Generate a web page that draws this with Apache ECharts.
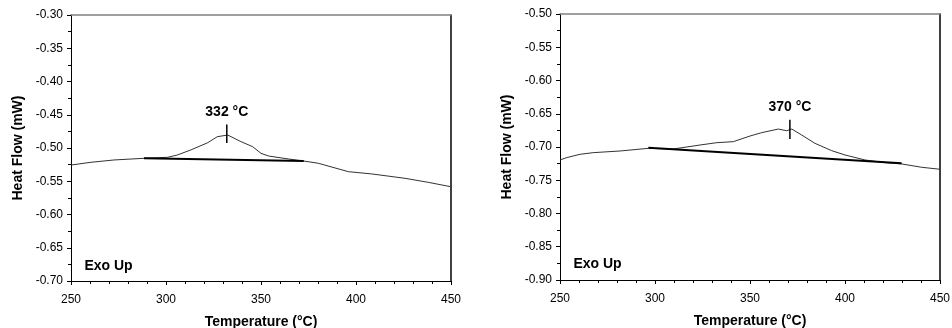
<!DOCTYPE html>
<html>
<head>
<meta charset="utf-8">
<script src="https://cdn.jsdelivr.net/npm/echarts@6/dist/echarts.min.js"></script>
<style>
  html, body { margin: 0; padding: 0; background: #fff; }
  #chart { width: 952px; height: 328px; }
</style>
</head>
<body>
<div id="chart"></div>
<script>
// left panel: DSC trace
const leftTemp = [250, 260.5, 272.6, 288.4, 300.9, 306, 313, 322, 327, 332.5, 339.5, 345.6, 350, 353.9, 364.4, 372.3, 380.2, 396, 408.3, 425.8, 438, 449.5];
const leftHeat = [-0.5256, -0.5215, -0.518, -0.5155, -0.514, -0.5105, -0.503, -0.492, -0.483, -0.4805, -0.4905, -0.498, -0.508, -0.512, -0.5165, -0.5195, -0.523, -0.5356, -0.539, -0.5456, -0.5516, -0.558];
const leftBaseT = [288.4, 372.5];
const leftBaseV = [-0.5155, -0.5195];
const leftPeakT = 332;
const leftPeakV = [-0.4645, -0.4925];
const leftPeakLabel = "332 °C";
const leftExo = [256.8, -0.6774];

// right panel
const rightTemp = [250, 253.5, 260.5, 267.5, 281.6, 296.5, 309.6, 323.7, 332.5, 341.2, 350, 356.1, 364.9, 369.3, 372, 377.2, 384.2, 393, 400, 410.5, 421, 429.8, 440.4, 450];
const rightHeat = [-0.7195, -0.716, -0.711, -0.7085, -0.706, -0.702, -0.703, -0.697, -0.6935, -0.692, -0.6835, -0.6785, -0.673, -0.6755, -0.673, -0.682, -0.6945, -0.7055, -0.712, -0.7195, -0.7235, -0.7255, -0.7305, -0.7335];
const rightBaseT = [296.5, 429.8];
const rightBaseV = [-0.701, -0.7245];
const rightPeakT = 371;
const rightPeakV = [-0.659, -0.688];
const rightPeakLabel = "370 °C";
const rightExo = [256.8, -0.876];

const xTicks = [250, 300, 350, 400, 450];
const leftYRange = [-0.70, -0.30];
const rightYRange = [-0.90, -0.50];

const FONT = "Liberation Sans, Arial, sans-serif";

const zip = (xs, ys) => xs.map((x, i) => [x, ys[i]]);

const chart = echarts.init(document.getElementById("chart"), null, { renderer: "canvas" });

function xAxisFor(gi) {
    return [{
        gridIndex: gi,
        type: "value",
        min: xTicks[0],
        max: xTicks[xTicks.length - 1],
        interval: 50,
        name: "Temperature (°C)",
        nameLocation: "middle",
        nameGap: 34,
        nameTextStyle: { fontFamily: FONT, fontSize: 14, fontWeight: "bold", color: "#000" },
        axisLine: { lineStyle: { color: "#000", width: 1 } },
        axisTick: { show: true, inside: false, length: 4, lineStyle: { color: "#000" } },
        minorTick: { show: true, splitNumber: 5, length: 3, lineStyle: { color: "#000" } },
        axisLabel: { fontFamily: FONT, fontSize: 12, color: "#000", margin: 13 },
        splitLine: { show: false }
    }, {
        // top frame line
        gridIndex: gi,
        type: "value",
        position: "top",
        min: xTicks[0],
        max: xTicks[xTicks.length - 1],
        axisLine: { lineStyle: { color: "#808080", width: 1.5 } },
        axisTick: { show: false },
        axisLabel: { show: false },
        splitLine: { show: false }
    }];
}

function yAxisFor(gi, range) {
    return [{
        gridIndex: gi,
        type: "value",
        min: range[0],
        max: range[1],
        interval: 0.05,
        name: "Heat Flow (mW)",
        nameLocation: "middle",
        nameGap: 46,
        nameTextStyle: { fontFamily: FONT, fontSize: 14, fontWeight: "bold", color: "#000" },
        axisLine: { show: true, lineStyle: { color: "#000", width: 1 } },
        axisTick: { show: true, inside: false, length: 4, lineStyle: { color: "#000" } },
        minorTick: { show: true, splitNumber: 2, length: 3, lineStyle: { color: "#000" } },
        axisLabel: {
            fontFamily: FONT, fontSize: 12, color: "#000", margin: 8,
            formatter: v => v.toFixed(2)
        },
        splitLine: { show: false }
    }, {
        // right frame line
        gridIndex: gi,
        type: "value",
        position: "right",
        min: range[0],
        max: range[1],
        axisLine: { show: true, lineStyle: { color: "#000", width: 1.5 } },
        axisTick: { show: false },
        axisLabel: { show: false },
        splitLine: { show: false }
    }];
}

const textStyle = { fontFamily: FONT, fontSize: 14, fontWeight: "bold", color: "#000", opacity: 1 };
const hiddenItem = { color: "rgba(0,0,0,0)", opacity: 1 };

function seriesFor(gi, temp, heat, baseT, baseV, peakT, peakV, peakLabel, exo) {
    const xi = gi * 2, yi = gi * 2;
    return [{
        type: "line",
        xAxisIndex: xi, yAxisIndex: yi,
        data: zip(temp, heat),
        symbol: "none",
        lineStyle: { color: "#333", width: 1 },
        silent: true
    }, {
        type: "line",
        xAxisIndex: xi, yAxisIndex: yi,
        data: zip(baseT, baseV),
        symbol: "none",
        lineStyle: { color: "#000", width: 2 },
        silent: true
    }, {
        // peak marker line
        type: "line",
        xAxisIndex: xi, yAxisIndex: yi,
        data: [[peakT, peakV[0]], [peakT, peakV[1]]],
        symbol: "none",
        lineStyle: { color: "#000", width: 1.5 },
        silent: true
    }, {
        // peak label above marker
        type: "scatter",
        xAxisIndex: xi, yAxisIndex: yi,
        data: [[peakT, peakV[0]]],
        symbolSize: 1,
        itemStyle: hiddenItem,
        label: Object.assign({ show: true, position: "top", distance: 5, formatter: peakLabel }, textStyle),
        silent: true
    }, {
        type: "scatter",
        xAxisIndex: xi, yAxisIndex: yi,
        data: [exo],
        symbolSize: 1,
        itemStyle: hiddenItem,
        label: Object.assign({ show: true, position: "right", distance: 0, formatter: "Exo Up" }, textStyle),
        silent: true
    }];
}

const option = {
    animation: false,
    backgroundColor: "#fff",
    grid: [
        { left: 71, top: 15, width: 380, height: 266, outerBoundsMode: "none", containLabel: false },
        { left: 560, top: 14, width: 380, height: 266, outerBoundsMode: "none", containLabel: false }
    ],
    xAxis: [...xAxisFor(0), ...xAxisFor(1)],
    yAxis: [...yAxisFor(0, leftYRange), ...yAxisFor(1, rightYRange)],
    series: [
        ...seriesFor(0, leftTemp, leftHeat, leftBaseT, leftBaseV, leftPeakT, leftPeakV, leftPeakLabel, leftExo),
        ...seriesFor(1, rightTemp, rightHeat, rightBaseT, rightBaseV, rightPeakT, rightPeakV, rightPeakLabel, rightExo)
    ]
};

chart.setOption(option);
</script>
</body>
</html>
